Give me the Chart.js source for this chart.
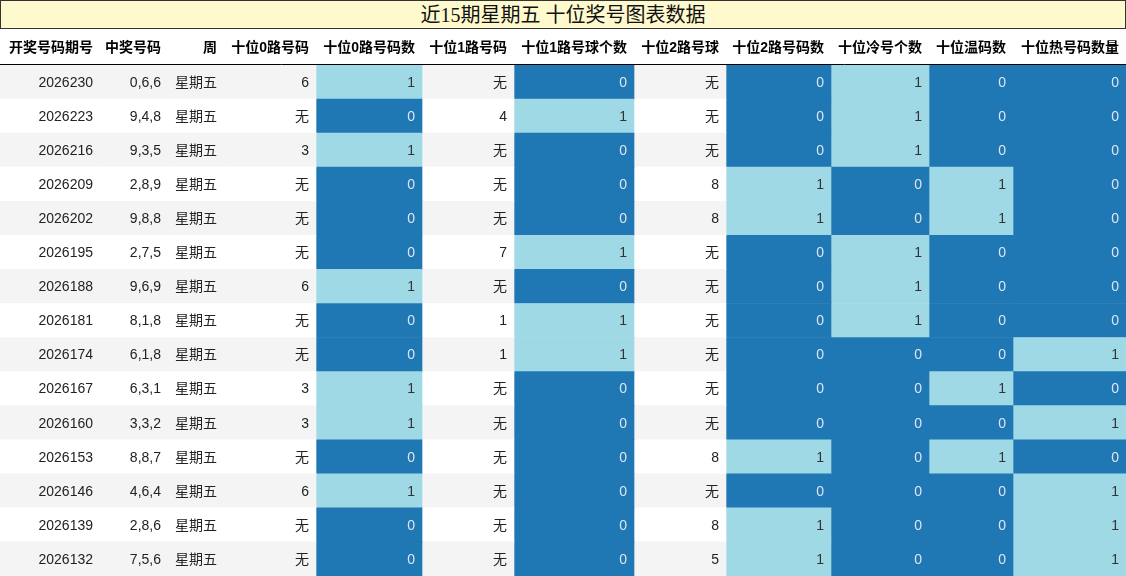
<!DOCTYPE html>
<html><head><meta charset="utf-8">
<script src="https://cdn.jsdelivr.net/npm/chart.js@4"></script>
<style>
body{margin:0;background:#fff;font-family:"Liberation Sans","Noto Sans CJK SC",sans-serif;}
#title{position:absolute;left:0;top:0;width:1124px;height:27px;border:1px solid #333;background:#fffacd;text-align:center;font:20px "Liberation Serif","Noto Sans CJK SC",serif;line-height:29px;color:#111;}
#wrap{position:absolute;left:0;top:29px;width:1126px;height:547px;}
</style></head><body>
<div id="title">近15期星期五 十位奖号图表数据</div>
<div id="wrap"><canvas id="c"></canvas></div>
<script>
const headers=["开奖号码期号","中奖号码","周","十位0路号码","十位0路号码数","十位1路号码","十位1路号球个数","十位2路号球","十位2路号码数","十位冷号个数","十位温码数","十位热号码数量"];
const periods=["2026230","2026223","2026216","2026209","2026202","2026195","2026188","2026181","2026174","2026167","2026160","2026153","2026146","2026139","2026132"];
const numbers=["0,6,6","9,4,8","9,3,5","2,8,9","9,8,8","2,7,5","9,6,9","8,1,8","6,1,8","6,3,1","3,3,2","8,8,7","4,6,4","2,8,6","7,5,6"];
const weekday=["星期五","星期五","星期五","星期五","星期五","星期五","星期五","星期五","星期五","星期五","星期五","星期五","星期五","星期五","星期五"];
const route0Code=["6","无","3","无","无","无","6","无","无","3","3","无","6","无","无"];
const route0Count=[1,0,1,0,0,0,1,0,0,1,1,0,1,0,0];
const route1Code=["无","4","无","无","无","7","无","1","1","无","无","无","无","无","无"];
const route1Count=[0,1,0,0,0,1,0,1,1,0,0,0,0,0,0];
const route2Code=["无","无","无","8","8","无","无","无","无","无","无","8","无","8","5"];
const route2Count=[0,0,0,1,1,0,0,0,0,0,0,1,0,1,1];
const coldCount=[1,1,1,0,0,1,1,1,0,0,0,0,0,0,0];
const warmCount=[0,0,0,1,1,0,0,0,0,1,0,1,0,0,0];
const hotCount=[0,0,0,0,0,0,0,0,1,0,1,0,1,1,1];

const columns=[periods,numbers,weekday,route0Code,route0Count,route1Code,route1Count,route2Code,route2Count,coldCount,warmCount,hotCount];
const numericCol=[false,false,false,false,true,false,true,false,true,true,true,true];
const edges=[0,100,168,224,316,422,514,634,726,831,929,1013,1126];
const DARK="#1f77b4",LIGHT="#a0d9e6",ZEBRA="#f4f4f4";

const datasets=columns.map((col,ci)=>({
  data:col.map(()=>[edges[ci],edges[ci+1]]),
  backgroundColor:col.map((v,ri)=>numericCol[ci]?(v===1?LIGHT:DARK):(ri%2===0?ZEBRA:"#ffffff")),
  borderWidth:0,barPercentage:1,categoryPercentage:1,grouped:false
}));

const textPlugin={id:"txt",afterDatasetsDraw(chart){
  const ctx=chart.ctx,ca=chart.chartArea,xs=chart.scales.x;
  ctx.save();ctx.textAlign="right";ctx.textBaseline="middle";
  ctx.font="bold 14px 'Liberation Sans','Noto Sans CJK SC',sans-serif";ctx.fillStyle="#000";
  headers.forEach((h,i)=>ctx.fillText(h,xs.getPixelForValue(edges[i+1])-7,ca.top-17));
  ctx.strokeStyle="#000";ctx.lineWidth=1;ctx.beginPath();ctx.moveTo(0,ca.top-0.5);ctx.lineTo(ca.right,ca.top-0.5);ctx.stroke();
  ctx.font="14px 'Liberation Sans','Noto Sans CJK SC',sans-serif";
  chart.data.datasets.forEach((ds,ci)=>{
    const meta=chart.getDatasetMeta(ci);
    meta.data.forEach((el,ri)=>{
      const v=columns[ci][ri];
      ctx.fillStyle=numericCol[ci]?(v===1?"#333":"#dde6ee"):"#222";
      ctx.fillText(String(v),Math.max(el.x,el.base)-7,el.y+1);
    });
  });
  ctx.restore();
}};

new Chart(document.getElementById("c"),{
  type:"bar",
  data:{labels:periods,datasets},
  options:{indexAxis:"y",responsive:true,maintainAspectRatio:false,animation:false,
    layout:{padding:{top:36,left:0,right:0,bottom:0}},
    plugins:{legend:{display:false},tooltip:{enabled:false}},
    scales:{x:{type:"linear",min:0,max:1126,display:false},y:{display:false,offset:true}}},
  plugins:[textPlugin]
});
</script></body></html>
